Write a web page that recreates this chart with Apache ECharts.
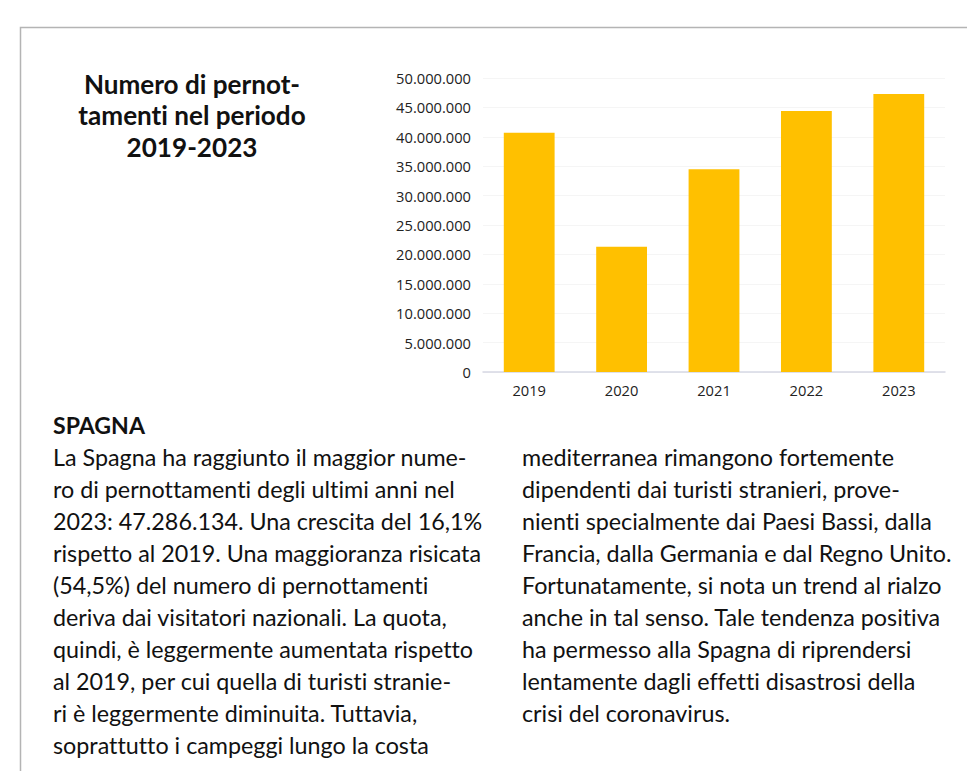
<!DOCTYPE html>
<html>
<head>
<meta charset="utf-8">
<script src="https://cdn.jsdelivr.net/npm/echarts@6/dist/echarts.min.js"></script>
<style>
  html, body { margin: 0; padding: 0; background: #fff; }
  #chart { width: 967px; height: 771px; }
  #chart svg text { font-variant-ligatures: none !important; }
</style>
</head>
<body>
<div id="chart"></div>
<script>
  // data
  var years = ['2019', '2020', '2021', '2022', '2023'];
  var pernottamenti = [40700000, 21300000, 34500000, 44400000, 47286134];
  var titleLines = ['Numero di pernot-', 'tamenti nel periodo', '2019-2023'];
  var heading = 'SPAGNA';
  var leftLines = [
    'La Spagna ha raggiunto il maggior nume-',
    'ro di pernottamenti degli ultimi anni nel',
    '2023: 47.286.134. Una crescita del 16,1%',
    'rispetto al 2019. Una maggioranza risicata',
    '(54,5%) del numero di pernottamenti',
    'deriva dai visitatori nazionali. La quota,',
    'quindi, è leggermente aumentata rispetto',
    'al 2019, per cui quella di turisti stranie-',
    'ri è leggermente diminuita. Tuttavia,',
    'soprattutto i campeggi lungo la costa'
  ];
  var rightLines = [
    'mediterranea rimangono fortemente',
    'dipendenti dai turisti stranieri, prove-',
    'nienti specialmente dai Paesi Bassi, dalla',
    'Francia, dalla Germania e dal Regno Unito.',
    'Fortunatamente, si nota un trend al rialzo',
    'anche in tal senso. Tale tendenza positiva',
    'ha permesso alla Spagna di riprendersi',
    'lentamente dagli effetti disastrosi della',
    'crisi del coronavirus.'
  ];

  function fmt(v) {
    return String(v).replace(/\B(?=(\d{3})+(?!\d))/g, '.');
  }

  // pick a font size so a sample string gets the width seen in the picture
  var ctx = document.createElement('canvas').getContext('2d');
  function fitSize(text, weight, family, target) {
    ctx.font = weight + ' 100px ' + family;
    return Math.round(1000 * target / ctx.measureText(text).width) / 10;
  }

  var bodyFont = 'Lato, "Open Sans", sans-serif';
  var axisFont = '"Open Sans", sans-serif';
  var bodySize = fitSize(leftLines[0] + rightLines[3], 'normal', bodyFont, 842);
  var headSize = fitSize(heading, 'bold', bodyFont, 92);
  var titleSize = fitSize(titleLines[1], 'bold', bodyFont, 228);
  var axisSize = fitSize('50.000.000', 'normal', axisFont, 75);

  var lineStep = 32;
  var textTop = 457;
  var leftX = 53;
  var rightX = 522;

  var graphics = [];
  // frame
  graphics.push({
    type: 'polyline',
    shape: { points: [[20.5, 771], [20.5, 27.5], [967, 27.5]] },
    style: { stroke: '#b4b4b4', lineWidth: 1.5, fill: null }
  });
  graphics.push({
    type: 'text', x: leftX, y: textTop - lineStep,
    style: { text: heading, font: 'bold ' + headSize + 'px ' + bodyFont, fill: '#111', textVerticalAlign: 'middle' }
  });
  leftLines.forEach(function (t, i) {
    graphics.push({
      type: 'text', x: leftX, y: textTop + i * lineStep,
      style: { text: t, font: bodySize + 'px ' + bodyFont, fill: '#111', textVerticalAlign: 'middle' }
    });
  });
  rightLines.forEach(function (t, i) {
    graphics.push({
      type: 'text', x: rightX, y: textTop + i * lineStep,
      style: { text: t, font: bodySize + 'px ' + bodyFont, fill: '#111', textVerticalAlign: 'middle' }
    });
  });

  var myChart = echarts.init(document.getElementById('chart'), null, { renderer: 'svg' });
  var option = {
    backgroundColor: '#fff',
    animation: false,
    title: {
      text: titleLines.join('\n'),
      left: 187,
      top: 63,
      textAlign: 'center',
      textStyle: {
        fontFamily: bodyFont,
        fontWeight: 'bold',
        fontSize: titleSize,
        lineHeight: 31.5,
        color: '#111'
      }
    },
    grid: { left: 483, right: 22, top: 78, bottom: 399 },
    xAxis: {
      type: 'category',
      data: years,
      axisLine: { lineStyle: { color: '#d6d8e4', width: 1.5 } },
      axisTick: { show: false },
      axisLabel: { color: '#222', fontSize: axisSize, fontFamily: axisFont, margin: 10 }
    },
    yAxis: {
      type: 'value',
      min: 0,
      max: 50000000,
      interval: 5000000,
      axisLine: { show: false },
      axisTick: { show: false },
      splitLine: { lineStyle: { color: '#f5f5f5' } },
      axisLabel: {
        color: '#222', fontSize: axisSize, fontFamily: axisFont, margin: 12,
        formatter: fmt
      }
    },
    series: [{
      type: 'bar',
      data: pernottamenti,
      barWidth: '55%',
      itemStyle: { color: '#FFC000' }
    }],
    graphic: graphics
  };
  myChart.setOption(option);
</script>
</body>
</html>
